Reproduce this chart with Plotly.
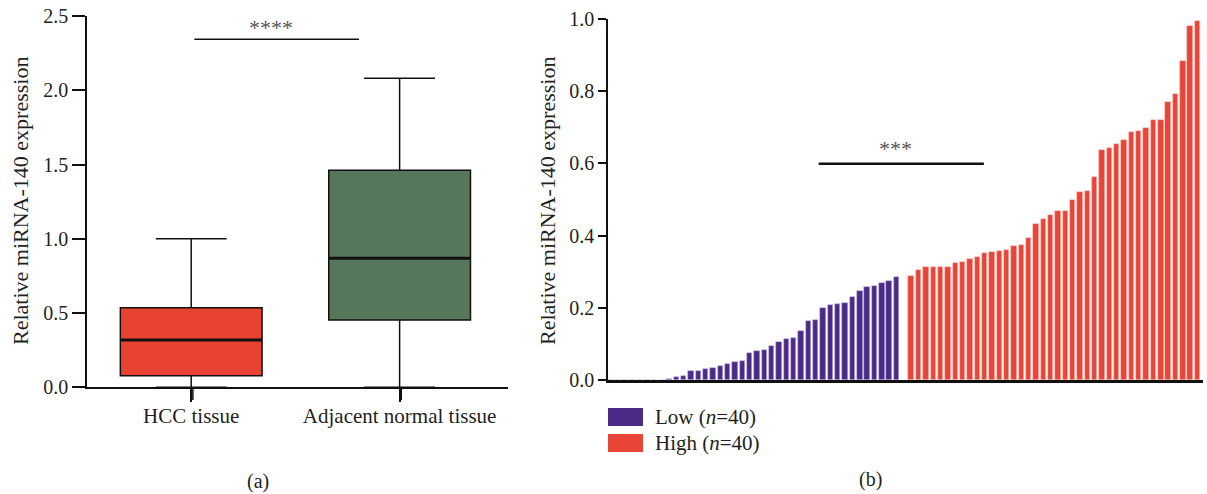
import plotly.graph_objects as go

# ---------------- data ----------------
box_categories = ["HCC tissue", "Adjacent normal tissue"]
box_min = [0.0, 0.0]
box_q1 = [0.078, 0.453]
box_median = [0.318, 0.869]
box_q3 = [0.536, 1.461]
box_max = [1.0, 2.081]
box_colors = ["#E84332", "#56775A"]

low_values = [0.001, 0.001, 0.001, 0.001, 0.001, 0.001, 0.001, 0.001,
              0.004, 0.007, 0.010, 0.025, 0.026, 0.030, 0.032, 0.039,
              0.045, 0.050, 0.053, 0.076, 0.079, 0.083, 0.093, 0.104,
              0.114, 0.117, 0.136, 0.163, 0.167, 0.200, 0.209, 0.210,
              0.214, 0.229, 0.246, 0.258, 0.260, 0.270, 0.273, 0.285]
high_values = [0.287, 0.305, 0.313, 0.314, 0.314, 0.314, 0.324, 0.328,
               0.336, 0.341, 0.351, 0.355, 0.358, 0.361, 0.370, 0.374,
               0.393, 0.433, 0.445, 0.457, 0.467, 0.469, 0.500, 0.520,
               0.523, 0.562, 0.637, 0.642, 0.655, 0.664, 0.686, 0.691,
               0.698, 0.721, 0.721, 0.770, 0.793, 0.884, 0.981, 0.994]
group_labels = ["Low (<i>n</i>=40)", "High (<i>n</i>=40)"]
group_colors = ["#4B2A88", "#E84536"]

sig_left = "****"
sig_right = "***"
sig_left_y = 2.343
sig_right_y = 0.599

W, H = 1207, 494
FONT = "Liberation Serif"
TXT = "#231F20"


def px(x):
    return x / W


def py(y):
    return 1 - y / H


fig = go.Figure()

# ---------------- panel (a): box plot ----------------
for i, cat in enumerate(box_categories):
    fig.add_trace(go.Box(
        x=[cat], q1=[box_q1[i]], median=[box_median[i]], q3=[box_q3[i]],
        lowerfence=[box_min[i]], upperfence=[box_max[i]],
        fillcolor=box_colors[i], line=dict(color="#111111", width=1.5),
        width=0.68, whiskerwidth=0.5, boxpoints=False, showlegend=False,
        xaxis="x", yaxis="y", hoverinfo="skip"))

shapes = []
for i in range(len(box_categories)):
    shapes.append(dict(type="line", xref="x", yref="y",
                       x0=i - 0.34, x1=i + 0.34, y0=box_median[i], y1=box_median[i],
                       line=dict(color="#111111", width=3)))
    # category tick mark below the axis
    shapes.append(dict(type="line", xref="x", yref="paper",
                       x0=i + 0.008, x1=i + 0.008, y0=py(387.3), y1=py(400),
                       line=dict(color="#111111", width=1.5)))

shapes.append(dict(type="line", xref="x", yref="y", x0=0.015, x1=0.805,
                   y0=sig_left_y, y1=sig_left_y, line=dict(color="#111111", width=1.5)))

# ---------------- panel (b): ranked bars ----------------
n_low = len(low_values)
x_low = list(range(n_low))
x_high = [n_low + 1 + k for k in range(len(high_values))]
fig.add_trace(go.Bar(x=x_low, y=low_values, marker=dict(color=group_colors[0],
                     line=dict(color="rgba(200,190,225,0.9)", width=0.6)),
                     width=0.74, xaxis="x2", yaxis="y2", showlegend=False, hoverinfo="skip"))
fig.add_trace(go.Bar(x=x_high, y=high_values, marker=dict(color=group_colors[1],
                     line=dict(color="rgba(250,200,195,0.9)", width=0.6)),
                     width=0.74, xaxis="x2", yaxis="y2", showlegend=False, hoverinfo="skip"))

shapes.append(dict(type="line", xref="x2", yref="y2", x0=28.4, x1=50.9,
                   y0=sig_right_y, y1=sig_right_y, line=dict(color="#111111", width=2.5)))

legend_rows = [417, 443]
for k in range(2):
    shapes.append(dict(type="rect", xref="paper", yref="paper",
                       x0=px(608), x1=px(643), y0=py(legend_rows[k] - 9), y1=py(legend_rows[k] + 9),
                       fillcolor=group_colors[k], line=dict(width=0)))

annotations = []
for xc in (20, 547):
    annotations.append(dict(text="Relative miRNA-140 expression", xref="paper", yref="paper",
                            x=px(xc), y=py(201), textangle=-90, showarrow=False,
                            font=dict(family=FONT, size=22, color=TXT),
                            xanchor="center", yanchor="middle"))
annotations.append(dict(text=sig_left, xref="paper", yref="paper", x=px(271), y=py(42),
                        showarrow=False, font=dict(family=FONT, size=22, color="#555555"),
                        xanchor="center", yanchor="bottom"))
annotations.append(dict(text=sig_right, xref="paper", yref="paper", x=px(895), y=py(163),
                        showarrow=False, font=dict(family=FONT, size=22, color="#555555"),
                        xanchor="center", yanchor="bottom"))
for k in range(2):
    annotations.append(dict(text=group_labels[k], xref="paper", yref="paper", x=px(653),
                            y=py(legend_rows[k]), showarrow=False, xanchor="left", yanchor="middle",
                            font=dict(family=FONT, size=21, color=TXT)))
annotations.append(dict(text="(a)", xref="paper", yref="paper", x=px(258), y=py(481),
                        showarrow=False, xanchor="center", yanchor="middle",
                        font=dict(family=FONT, size=20, color=TXT)))
annotations.append(dict(text="(b)", xref="paper", yref="paper", x=px(870), y=py(479),
                        showarrow=False, xanchor="center", yanchor="middle",
                        font=dict(family=FONT, size=20, color=TXT)))

line_common = dict(showgrid=False, zeroline=False, linecolor="#111111",
                   tickcolor="#111111", automargin=False)
tickfont = dict(family=FONT, size=20, color=TXT)

fig.update_layout(
    width=W, height=H,
    margin=dict(l=0, r=0, t=0, b=0, pad=0),
    paper_bgcolor="white", plot_bgcolor="white",
    showlegend=False,
    xaxis=dict(domain=[px(87), px(508)], type="category", range=[-0.5, 1.52],
               showline=True, linewidth=1.5, ticks="outside", ticklen=13, tickwidth=1.5,
               ticklabelstandoff=-4,
               anchor="y", tickfont=dict(family=FONT, size=21, color=TXT), **line_common),
    yaxis=dict(domain=[py(387.3), py(16)], range=[0, 2.5], dtick=0.5, tickformat=".1f",
               showline=True, linewidth=1.5, ticks="outside", ticklen=13, tickwidth=1.5,
               anchor="x", tickfont=tickfont, **line_common),
    xaxis2=dict(domain=[px(608), px(1203)], range=[-0.3, 80.75], showline=True,
                linewidth=2.5, ticks="", showticklabels=False, anchor="y2", **line_common),
    yaxis2=dict(domain=[py(380), py(19)], range=[0, 1], dtick=0.2, tickformat=".1f",
                showline=True, linewidth=1.5, ticks="outside", ticklen=8, tickwidth=1.5,
                anchor="x2", tickfont=tickfont, **line_common),
    shapes=shapes,
    annotations=annotations,
    bargap=0,
)

fig.write_html("out.html")
